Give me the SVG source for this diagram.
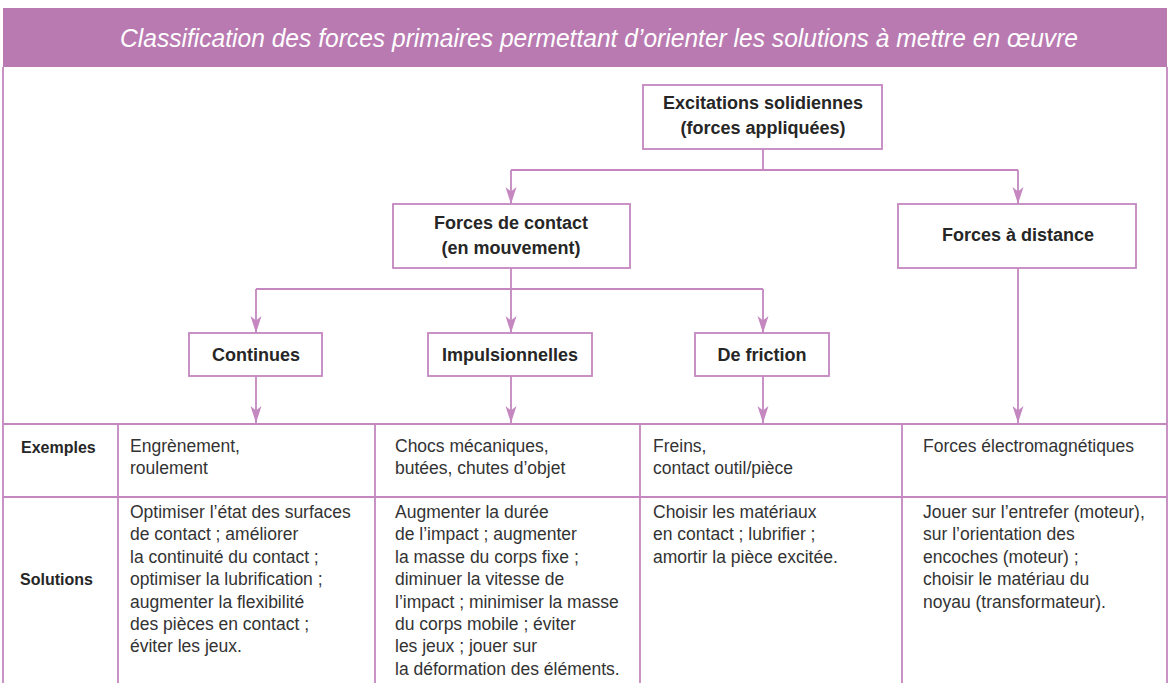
<svg xmlns="http://www.w3.org/2000/svg" width="1170" height="683" viewBox="0 0 1170 683">
<style>
.frame{fill:none;stroke:#c487c0;stroke-width:1.8}
.box{fill:#ffffff;stroke:#c487c0;stroke-width:1.8}
.conn{fill:none;stroke:#c487c0;stroke-width:1.8}
.title{font-family:"Liberation Sans",Arial,sans-serif;font-style:italic;font-size:25px;fill:#ffffff}
.bt{font-family:"Liberation Sans",Arial,sans-serif;font-weight:bold;font-size:18px;fill:#262626;text-anchor:middle}
.rl{font-family:"Liberation Sans",Arial,sans-serif;font-weight:bold;font-size:16px;fill:#262626}
.tx{font-family:"Liberation Sans",Arial,sans-serif;font-size:17.5px;fill:#333333}
</style>
<defs>
<marker id="arr" markerUnits="userSpaceOnUse" markerWidth="20" markerHeight="14" viewBox="-18 -7 20 14" refX="0" refY="0" orient="auto">
<path d="M0,0 L-17,-5.5 L-12.5,0 L-17,5.5 Z" fill="#c487c0"/>
</marker>
</defs>
<rect x="0" y="0" width="1170" height="683" fill="#ffffff"/>
<g id="header">
<rect x="3" y="8" width="1164" height="59" fill="#b97ab1"/>
<text class="title" x="599" y="47" text-anchor="middle" textLength="958" lengthAdjust="spacingAndGlyphs">Classification des forces primaires permettant d’orienter les solutions à mettre en œuvre</text>
</g>
<g id="table">
<line class="frame" x1="3" y1="67" x2="3" y2="683"/>
<line class="frame" x1="1167" y1="67" x2="1167" y2="683"/>
<line class="frame" x1="3" y1="424" x2="1167" y2="424"/>
<line class="frame" x1="3" y1="497" x2="1167" y2="497"/>
<line class="frame" x1="118" y1="424" x2="118" y2="683"/>
<line class="frame" x1="375" y1="424" x2="375" y2="683"/>
<line class="frame" x1="640" y1="424" x2="640" y2="683"/>
<line class="frame" x1="902" y1="424" x2="902" y2="683"/>
<text class="rl" x="21" y="453">Exemples</text>
<text class="rl" x="20" y="585">Solutions</text>
<text class="tx" x="130" y="452">Engrènement,</text>
<text class="tx" x="130" y="474">roulement</text>
<text class="tx" x="395" y="452">Chocs mécaniques,</text>
<text class="tx" x="395" y="474">butées, chutes d’objet</text>
<text class="tx" x="653" y="452">Freins,</text>
<text class="tx" x="653" y="474">contact outil/pièce</text>
<text class="tx" x="923" y="452">Forces électromagnétiques</text>
<g class="tx">
<text x="130" y="518">Optimiser l’état des surfaces</text>
<text x="130" y="540.4">de contact ; améliorer</text>
<text x="130" y="562.8">la continuité du contact ;</text>
<text x="130" y="585.2">optimiser la lubrification ;</text>
<text x="130" y="607.6">augmenter la flexibilité</text>
<text x="130" y="630">des pièces en contact ;</text>
<text x="130" y="652.4">éviter les jeux.</text>
</g>
<g class="tx">
<text x="395" y="518">Augmenter la durée</text>
<text x="395" y="540.4">de l’impact ; augmenter</text>
<text x="395" y="562.8">la masse du corps fixe ;</text>
<text x="395" y="585.2">diminuer la vitesse de</text>
<text x="395" y="607.6">l’impact ; minimiser la masse</text>
<text x="395" y="630">du corps mobile ; éviter</text>
<text x="395" y="652.4">les jeux ; jouer sur</text>
<text x="395" y="674.8">la déformation des éléments.</text>
</g>
<g class="tx">
<text x="653" y="518">Choisir les matériaux</text>
<text x="653" y="540.4">en contact ; lubrifier ;</text>
<text x="653" y="562.8">amortir la pièce excitée.</text>
</g>
<g class="tx">
<text x="923" y="518">Jouer sur l’entrefer (moteur),</text>
<text x="923" y="540.4">sur l’orientation des</text>
<text x="923" y="562.8">encoches (moteur) ;</text>
<text x="923" y="585.2">choisir le matériau du</text>
<text x="923" y="607.6">noyau (transformateur).</text>
</g>
</g>
<g id="connectors">
<polyline class="conn" points="763,149 763,170"/>
<line class="conn" x1="511" y1="170" x2="1018" y2="170"/>
<line class="conn" x1="511" y1="170" x2="511" y2="204" marker-end="url(#arr)"/>
<line class="conn" x1="1018" y1="170" x2="1018" y2="204" marker-end="url(#arr)"/>
<polyline class="conn" points="511,268 511,289"/>
<line class="conn" x1="256" y1="289" x2="763" y2="289"/>
<line class="conn" x1="256" y1="289" x2="256" y2="333" marker-end="url(#arr)"/>
<line class="conn" x1="511" y1="289" x2="511" y2="333" marker-end="url(#arr)"/>
<line class="conn" x1="763" y1="289" x2="763" y2="333" marker-end="url(#arr)"/>
<line class="conn" x1="256" y1="376" x2="256" y2="423" marker-end="url(#arr)"/>
<line class="conn" x1="511" y1="376" x2="511" y2="423" marker-end="url(#arr)"/>
<line class="conn" x1="763" y1="376" x2="763" y2="423" marker-end="url(#arr)"/>
<line class="conn" x1="1018" y1="268" x2="1018" y2="423" marker-end="url(#arr)"/>
</g>
<g id="node-excitations">
<rect class="box" x="643" y="85" width="239" height="64"/>
<text class="bt" x="763" y="109">Excitations solidiennes</text>
<text class="bt" x="763" y="134">(forces appliquées)</text>
</g>
<g id="node-contact">
<rect class="box" x="393" y="204" width="237" height="64"/>
<text class="bt" x="511" y="229">Forces de contact</text>
<text class="bt" x="511" y="254">(en mouvement)</text>
</g>
<g id="node-distance">
<rect class="box" x="898" y="204" width="238" height="64"/>
<text class="bt" x="1018" y="241">Forces à distance</text>
</g>
<g id="node-continues">
<rect class="box" x="189" y="333" width="133" height="43"/>
<text class="bt" x="256" y="361">Continues</text>
</g>
<g id="node-impulsionnelles">
<rect class="box" x="428" y="333" width="164" height="43"/>
<text class="bt" x="510" y="361">Impulsionnelles</text>
</g>
<g id="node-friction">
<rect class="box" x="695" y="333" width="134" height="43"/>
<text class="bt" x="762" y="361">De friction</text>
</g>
</svg>
